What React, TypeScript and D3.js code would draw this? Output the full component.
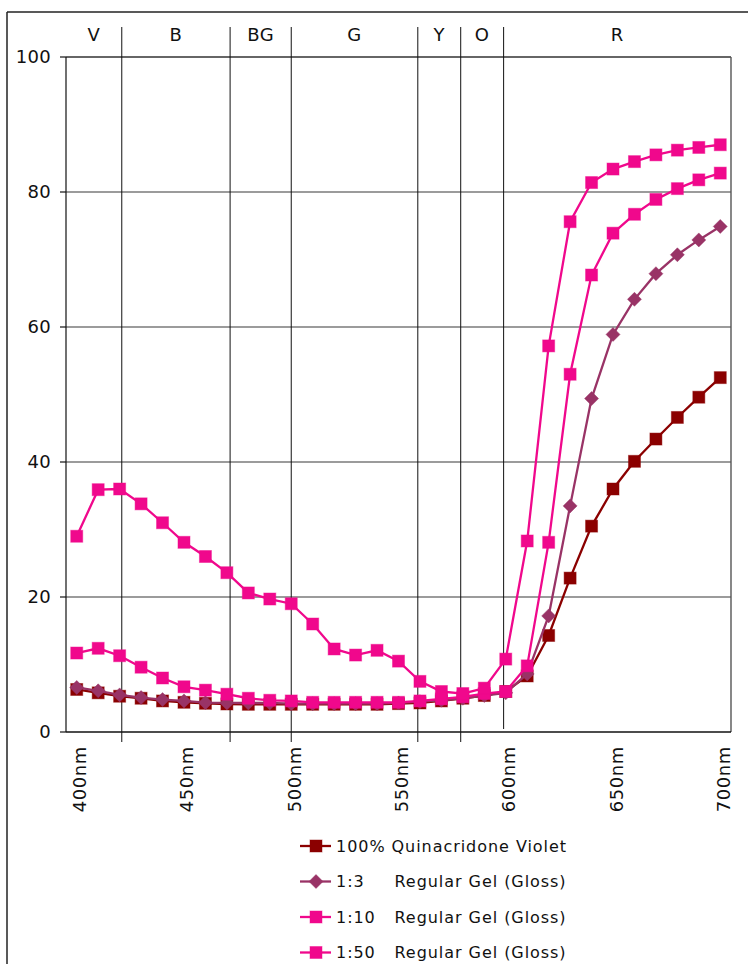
import React from "react";
import * as d3 from "d3";

const wavelengths = [400, 410, 420, 430, 440, 450, 460, 470, 480, 490, 500, 510, 520, 530, 540, 550, 560, 570, 580, 590, 600, 610, 620, 630, 640, 650, 660, 670, 680, 690, 700];

const quinViolet = [6.3, 5.8, 5.3, 5.0, 4.6, 4.4, 4.25, 4.15, 4.1, 4.1, 4.1, 4.1, 4.1, 4.1, 4.1, 4.2, 4.3, 4.6, 5.0, 5.4, 6.0, 8.3, 14.3, 22.8, 30.5, 36.0, 40.1, 43.4, 46.6, 49.6, 52.5];
const gel1to3 = [6.6, 6.1, 5.5, 5.1, 4.8, 4.6, 4.35, 4.3, 4.3, 4.3, 4.2, 4.2, 4.2, 4.2, 4.2, 4.3, 4.5, 4.7, 5.0, 5.4, 5.8, 8.6, 17.2, 33.5, 49.4, 58.9, 64.1, 67.9, 70.7, 72.9, 74.9];
const gel1to10 = [11.7, 12.4, 11.3, 9.6, 8.0, 6.7, 6.2, 5.6, 5.0, 4.7, 4.6, 4.4, 4.4, 4.4, 4.4, 4.4, 4.6, 4.9, 5.2, 5.7, 6.0, 9.8, 28.1, 53.0, 67.7, 73.9, 76.7, 78.9, 80.5, 81.8, 82.8];
const gel1to50 = [29.0, 35.9, 36.0, 33.8, 31.0, 28.1, 26.0, 23.6, 20.6, 19.7, 19.0, 16.0, 12.3, 11.4, 12.1, 10.5, 7.5, 6.0, 5.7, 6.5, 10.8, 28.3, 57.2, 75.6, 81.4, 83.4, 84.5, 85.5, 86.2, 86.6, 87.0];

const seriesNames = ["100% Quinacridone Violet", "1:3", "1:10", "1:50"];
const seriesMedium = ["", "Regular Gel (Gloss)", "Regular Gel (Gloss)", "Regular Gel (Gloss)"];
const seriesColors = ["#8b0000", "#993366", "#f0088c", "#f0088c"];
const seriesMarkers = ["square", "diamond", "square", "square"];
const seriesValues = [quinViolet, gel1to3, gel1to10, gel1to50];

const yTicks = [0, 20, 40, 60, 80, 100];
const xLabels = [400, 450, 500, 550, 600, 650, 700];
const bandNames = ["V", "B", "BG", "G", "Y", "O", "R"];
const bandEdges = [421, 471.5, 500, 559, 579, 599];
const bandEdgeLong = [true, true, true, true, true, false];

const W = 748;
const H = 964;
const L = 66;
const R = 731;
const T = 57;
const B = 732;
const FONT = "DejaVu Sans, Verdana, sans-serif";

function Marker({ type, cx, cy, color }: { type: string; cx: number; cy: number; color: string }) {
  if (type === "diamond") {
    const r = 7;
    return (
      <path
        d={`M${cx},${cy - r}L${cx + r},${cy}L${cx},${cy + r}L${cx - r},${cy}Z`}
        fill={color}
        stroke={color}
        strokeOpacity={0.45}
        strokeWidth={1}
      />
    );
  }
  const s = 12;
  return (
    <rect
      x={cx - s / 2}
      y={cy - s / 2}
      width={s}
      height={s}
      fill={color}
      stroke={color}
      strokeOpacity={0.45}
      strokeWidth={1}
    />
  );
}

export default function App() {
  const x = d3.scalePoint<number>().domain(wavelengths).range([L, R]).padding(0.5);
  const xLin = d3.scaleLinear().domain([400, 700]).range([x(400)!, x(700)!]);
  const y = d3.scaleLinear().domain([0, 100]).range([B, T]);
  const line = d3
    .line<number>()
    .x((_, i) => x(wavelengths[i])!)
    .y((d) => y(d));

  const edgesPx = [L, ...bandEdges.map((e) => xLin(e)), R];

  return (
    <svg
      width={W}
      height={H}
      style={{ position: "absolute", left: 0, top: 0, background: "#fff" }}
      fontFamily={FONT}
    >
      {/* outer frame */}
      <line x1={7} y1={12} x2={W} y2={12} stroke="#222" strokeWidth={1.5} />
      <line x1={7} y1={12} x2={7} y2={H} stroke="#222" strokeWidth={1.5} />

      {/* gridlines */}
      {yTicks.filter((t) => t > 0).map((t) => (
        <line key={t} x1={L} x2={R} y1={y(t)} y2={y(t)} stroke={t === 100 ? "#333" : "#7a7a7a"} strokeWidth={1.4} />
      ))}
      {/* right border */}
      <line x1={R} x2={R} y1={T} y2={B} stroke="#555" strokeWidth={1.4} />

      {/* band separators */}
      {bandEdges.map((e, i) => (
        <line
          key={e}
          x1={xLin(e)}
          x2={xLin(e)}
          y1={27}
          y2={bandEdgeLong[i] ? 742 : 729}
          stroke="#111"
          strokeWidth={1}
        />
      ))}

      {/* band labels */}
      {bandNames.map((n, i) => (
        <text key={n} x={(edgesPx[i] + edgesPx[i + 1]) / 2} y={40.5} fontSize={18} textAnchor="middle" fill="#111" letterSpacing={0.5}>
          {n}
        </text>
      ))}

      {/* axes */}
      <line x1={L} x2={L} y1={T} y2={B} stroke="#111" strokeWidth={1.2} />
      <line x1={L} x2={R} y1={B} y2={B} stroke="#111" strokeWidth={1.4} />
      {yTicks.map((t) => (
        <g key={t}>
          <line x1={L - 6} x2={L} y1={y(t)} y2={y(t)} stroke="#111" strokeWidth={1.2} />
          <text x={51} y={y(t)} dy="0.36em" fontSize={18} textAnchor="end" fill="#111" letterSpacing={0.3}>
            {t}
          </text>
        </g>
      ))}

      {/* x labels */}
      {xLabels.map((w) => {
        const cx = x(w)! + 3;
        return (
          <text
            key={w}
            transform={`translate(${cx},746) rotate(-90)`}
            dy="0.36em"
            fontSize={18}
            textAnchor="end"
            fill="#111"
            letterSpacing={0.6}
          >
            {w}nm
          </text>
        );
      })}

      {/* series */}
      {seriesValues.map((vals, si) => (
        <g key={si}>
          <path d={line(vals) || ""} fill="none" stroke={seriesColors[si]} strokeWidth={2.3} />
          {vals.map((v, i) => (
            <Marker key={i} type={seriesMarkers[si]} cx={x(wavelengths[i])!} cy={y(v)} color={seriesColors[si]} />
          ))}
        </g>
      ))}

      {/* legend */}
      {seriesNames.map((n, i) => {
        const ly = 846 + i * 35.5;
        return (
          <g key={n}>
            <line x1={300} x2={331} y1={ly} y2={ly} stroke={seriesColors[i]} strokeWidth={2.3} />
            <Marker type={seriesMarkers[i]} cx={316} cy={ly} color={seriesColors[i]} />
            <text x={336} y={ly} dy="0.36em" fontSize={16} fill="#111" letterSpacing={0.95}>
              {n}
              {seriesMedium[i] ? <tspan x={394.5}>{seriesMedium[i]}</tspan> : null}
            </text>
          </g>
        );
      })}
    </svg>
  );
}
